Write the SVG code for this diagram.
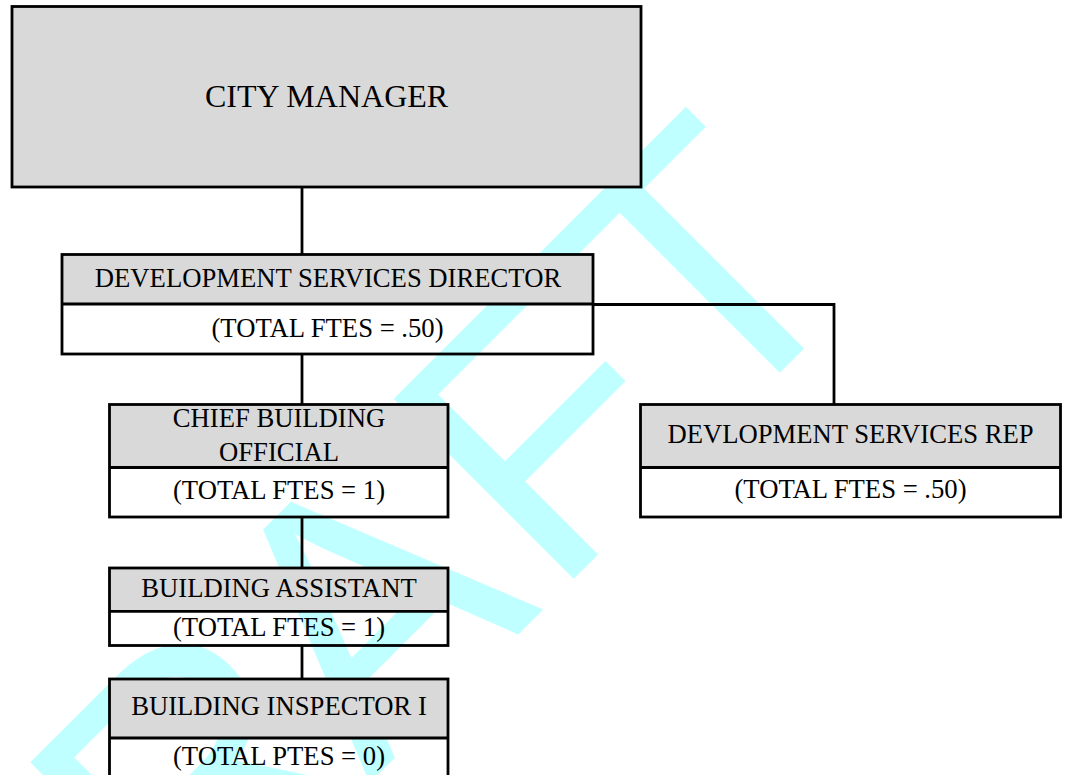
<svg xmlns="http://www.w3.org/2000/svg" width="1067" height="775" viewBox="0 0 1067 775">
<style>
.hd{fill:#D9D9D9;stroke:none}
.bx{fill:none;stroke:#000;stroke-width:2.8}
.ln{fill:none;stroke:#000;stroke-width:2.8}
.t{font-family:"Liberation Serif","Times New Roman",serif;font-size:26.67px;fill:#000;text-anchor:middle}
.big{font-size:32px}
.wm{font-family:"Liberation Sans",Arial,sans-serif;font-size:370px;fill:#BFFFFF}
</style>
<rect width="1067" height="775" fill="#fff"/>
<g id="watermark">
<text class="wm" transform="rotate(-45)" x="-820 -548 -293 -34 192" y="815">DRAFT</text>
</g>
<g id="city-manager">
<rect class="hd" x="12" y="6.5" width="629" height="180.5"/>
<rect class="bx" x="12" y="6.5" width="629" height="180.5"/>
<text class="t big" x="326.5" y="107">CITY MANAGER</text>
</g>
<g id="dev-services-director">
<rect class="hd" x="62" y="254.5" width="531" height="49.5"/>
<rect class="bx" x="62" y="254.5" width="531" height="99.5"/>
<line class="ln" x1="62" y1="304" x2="593" y2="304"/>
<text class="t" x="328" y="287">DEVELOPMENT SERVICES DIRECTOR</text>
<text class="t" x="327.5" y="337">(TOTAL FTES = .50)</text>
</g>
<g id="chief-building-official">
<rect class="hd" x="109.5" y="404.5" width="338.5" height="63"/>
<rect class="bx" x="109.5" y="404.5" width="338.5" height="112.5"/>
<line class="ln" x1="109.5" y1="467.5" x2="448" y2="467.5"/>
<text class="t" x="279" y="427">CHIEF BUILDING</text>
<text class="t" x="279" y="461">OFFICIAL</text>
<text class="t" x="279" y="499">(TOTAL FTES = 1)</text>
</g>
<g id="dev-services-rep">
<rect class="hd" x="640.5" y="404.5" width="420" height="63"/>
<rect class="bx" x="640.5" y="404.5" width="420" height="112.5"/>
<line class="ln" x1="640.5" y1="467.5" x2="1060.5" y2="467.5"/>
<text class="t" x="850.5" y="443">DEVLOPMENT SERVICES REP</text>
<text class="t" x="850.5" y="498">(TOTAL FTES = .50)</text>
</g>
<g id="building-assistant">
<rect class="hd" x="109.5" y="568" width="338.5" height="43.3"/>
<rect class="bx" x="109.5" y="568" width="338.5" height="77.5"/>
<line class="ln" x1="109.5" y1="611.3" x2="448" y2="611.3"/>
<text class="t" x="279" y="597">BUILDING ASSISTANT</text>
<text class="t" x="279" y="636">(TOTAL FTES = 1)</text>
</g>
<g id="building-inspector">
<rect class="hd" x="109.5" y="679" width="338.5" height="59"/>
<rect class="bx" x="109.5" y="679" width="338.5" height="120"/>
<line class="ln" x1="109.5" y1="738" x2="448" y2="738"/>
<text class="t" x="279" y="715">BUILDING INSPECTOR I</text>
<text class="t" x="279" y="765">(TOTAL PTES = 0)</text>
</g>
<g id="connectors">
<line class="ln" x1="302" y1="187" x2="302" y2="254.5"/>
<line class="ln" x1="302" y1="354" x2="302" y2="404.5"/>
<polyline class="ln" points="593,304.5 834,304.5 834,404.5"/>
<line class="ln" x1="302" y1="517" x2="302" y2="568"/>
<line class="ln" x1="302" y1="645.5" x2="302" y2="679"/>
</g>
</svg>
